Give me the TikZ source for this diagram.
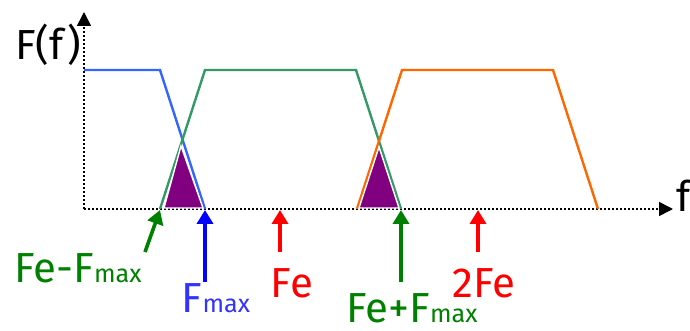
\documentclass[tikz,border=0pt]{standalone}
\usepackage{fontspec}
\setmainfont{Fira Sans}
\usepackage{xcolor}
\usetikzlibrary{arrows.meta}

\definecolor{specblue}{HTML}{3366FF}
\definecolor{specgreen}{HTML}{339966}
\definecolor{specorange}{HTML}{FF6600}
\definecolor{alias}{HTML}{800080}
\definecolor{lblgreen}{HTML}{008000}
\definecolor{lblblue}{HTML}{3333FF}
\definecolor{lblred}{HTML}{FF0000}

\newcommand{\mx}{{\fontsize{12.6}{13}\selectfont max}}

\begin{document}
\begin{tikzpicture}[
    x=0.5pt, y=-0.5pt,
    every node/.style={font=\fontsize{21}{23}\selectfont, inner sep=0pt},
    axis/.style={line width=0.8pt, dash pattern=on 0.8pt off 1.2pt, -{Triangle[width=7pt,length=7pt]}},
    spec/.style={line width=1.2pt, line join=miter},
    aliasfill/.style={fill=alias, draw=white, line width=0.7pt},
    mark arrow/.style={line width=1.8pt, -{Triangle[width=8pt,length=7pt]}},
  ]
  \useasboundingbox (0,0) rectangle (690,331);

  % axes
  \coordinate (O) at (84,209);
  \coordinate (ytip) at (84,12);
  \coordinate (xtip) at (673,209);
  \draw[axis] (O) -- (ytip);
  \draw[axis] (O) -- (xtip);
  \node (ylab) at (48,45) {F(f)};
  \node[anchor=west] (xlab) at (676,196) {f};

  % spectrum and its images
  \draw[spec, specblue] (84,70) -- (160,70) -- (205,209);
  \draw[spec, specgreen] (160,209) -- (205,70) -- (356,70) -- (401,209);
  \draw[spec, specorange] (357,209) -- (402,70) -- (553,70) -- (598,209);

  % aliasing zones
  \path[aliasfill] (164,208) -- (181,146) -- (203,208) -- cycle;
  \path[aliasfill] (359,208) -- (379,147) -- (399,208) -- cycle;

  % frequency marks
  \coordinate (fmin) at (160,210);
  \coordinate (fmax) at (205,210);
  \coordinate (fe) at (280,210);
  \coordinate (feplus) at (401,210);
  \coordinate (twofe) at (478,210);

  \coordinate (tfmin) at (145,252);
  \coordinate (tfmax) at (205,282);
  \coordinate (tfe) at (280,252);
  \coordinate (tfeplus) at (401,282);
  \coordinate (ttwofe) at (478,252);

  \draw[mark arrow, lblgreen] (tfmin) -- (fmin);
  \draw[mark arrow, blue] (tfmax) -- (fmax);
  \draw[mark arrow, lblred] (tfe) -- (fe);
  \draw[mark arrow, lblgreen] (tfeplus) -- (feplus);
  \draw[mark arrow, lblred] (ttwofe) -- (twofe);

  \node[text=lblgreen] (lfmin) at (78,268) {Fe-F\mx};
  \node[text=lblblue] (lfmax) at (216,298) {F\mx};
  \node[text=lblred] (lfe) at (292,283) {Fe};
  \node[text=lblgreen] (lfeplus) at (412,308) {Fe+F\mx};
  \node[text=lblred] (ltwofe) at (484,283) {2Fe};
\end{tikzpicture}
\end{document}
